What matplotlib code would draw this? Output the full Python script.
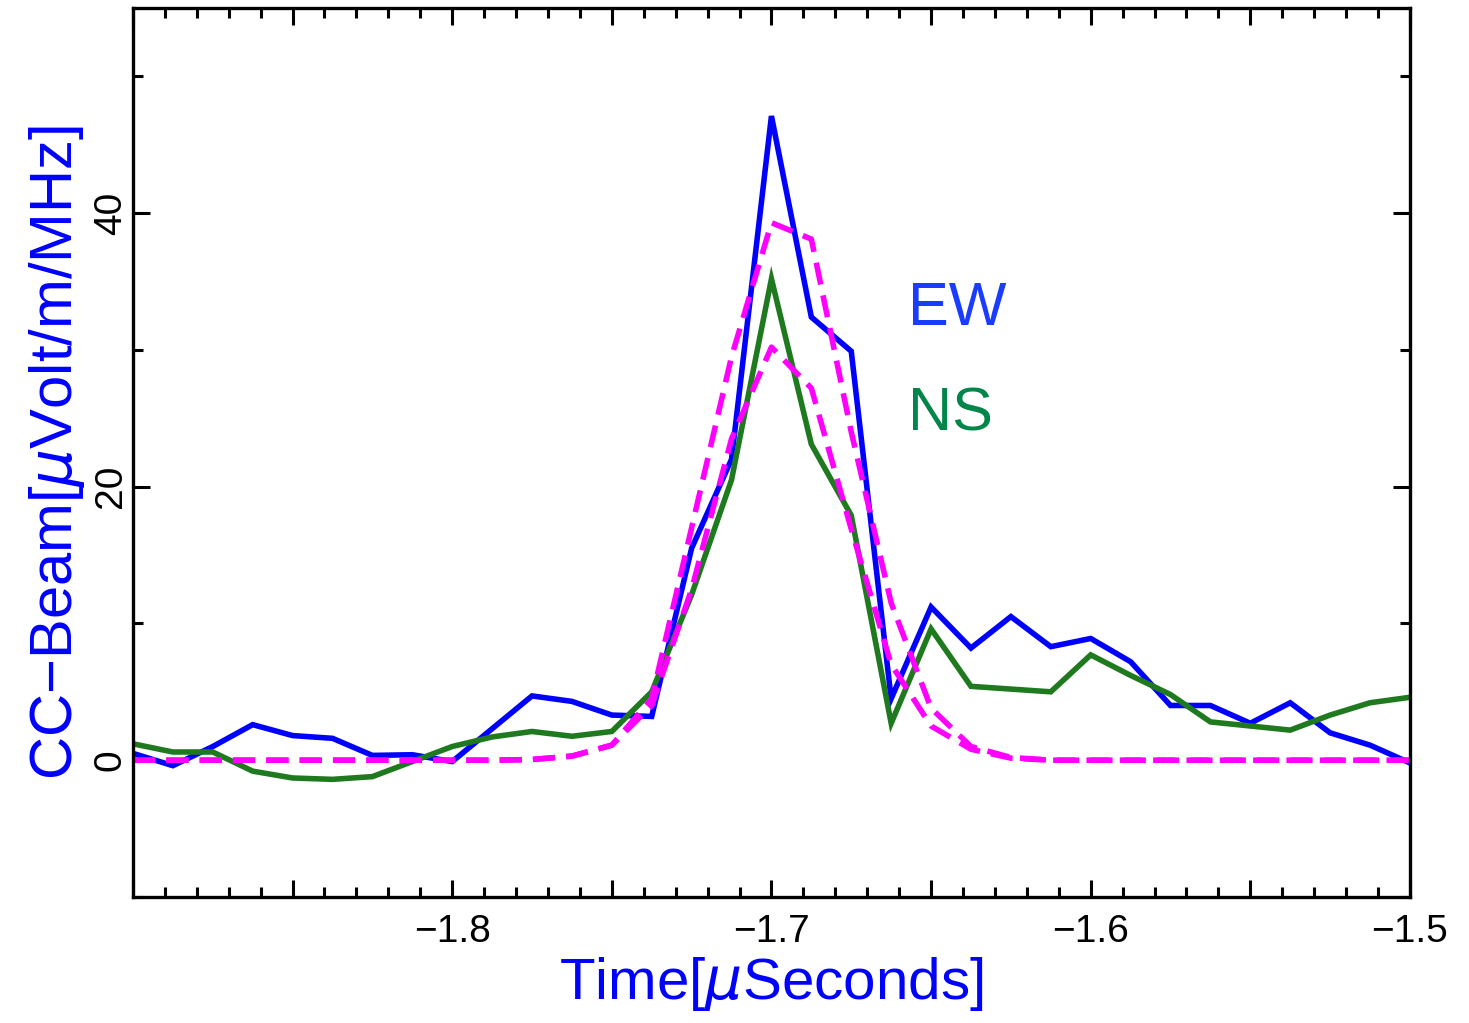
import numpy as np
import matplotlib
matplotlib.use("Agg")
import matplotlib.pyplot as plt
from matplotlib.ticker import MultipleLocator, FixedLocator

# time samples (microseconds), 12.5 ns spacing
time_us = [-1.9, -1.8875, -1.875, -1.8625, -1.85, -1.8375, -1.825, -1.8125,
           -1.8, -1.7875, -1.775, -1.7625, -1.75, -1.7375, -1.725, -1.7125,
           -1.7, -1.6875, -1.675, -1.6625, -1.65, -1.6375, -1.625, -1.6125,
           -1.6, -1.5875, -1.575, -1.5625, -1.55, -1.5375, -1.525, -1.5125,
           -1.5]

# CC-beam, east-west polarisation
beam_ew = [0.5, -0.4, 1.0, 2.6, 1.8, 1.6, 0.35, 0.4,
           -0.1, 2.3, 4.7, 4.3, 3.3, 3.2, 15.5, 22.0,
           47.1, 32.4, 29.9, 4.5, 11.2, 8.2, 10.5, 8.3,
           8.9, 7.2, 4.0, 4.0, 2.7, 4.2, 2.0, 1.1,
           -0.2]

# CC-beam, north-south polarisation
beam_ns = [1.2, 0.6, 0.6, -0.8, -1.3, -1.4, -1.2, -0.1,
           1.0, 1.7, 2.1, 1.75, 2.1, 5.0, 12.1, 20.5,
           35.2, 23.1, 17.9, 2.7, 9.6, 5.4, 5.2, 5.0,
           7.7, 6.2, 4.8, 2.8, 2.5, 2.2, 3.3, 4.2,
           4.6]

# fitted pulse shapes (dashed)
fit_ew = [0, 0, 0, 0, 0, 0, 0, 0,
          0, 0, 0.05, 0.3, 1.1, 4.5, 17.0, 29.5,
          39.3, 38.1, 24.0, 11.5, 3.8, 1.0, 0.2, 0,
          0, 0, 0, 0, 0, 0, 0, 0,
          0]
fit_ns = [0, 0, 0, 0, 0, 0, 0, 0,
          0, 0, 0.05, 0.3, 1.1, 4.0, 12.5, 23.5,
          30.2, 27.2, 16.9, 7.0, 2.5, 0.8, 0.15, 0,
          0, 0, 0, 0, 0, 0, 0, 0,
          0]

plt.rcParams['font.family'] = ['Liberation Sans', 'DejaVu Sans']

fig = plt.figure(figsize=(14.69, 10.23), dpi=100)
ax = fig.add_axes([0.0905, 0.1232, 0.8693, 0.869])

lw = 4.0
ax.plot(time_us, beam_ew, color='#0000ff', lw=lw, solid_joinstyle='miter')
ax.plot(time_us, beam_ns, color='#1f7a1f', lw=lw, solid_joinstyle='miter')
ax.plot(time_us, fit_ew, color='#ff00ff', lw=lw, dashes=(4, 2))
ax.plot(time_us, fit_ns, color='#ff00ff', lw=lw, dashes=(4, 2))

ax.set_xlim(-1.9, -1.5)
ax.set_ylim(-10, 55)

# labels only every 0.1, and none at the left edge
xmajor = [-1.9, -1.85, -1.8, -1.75, -1.7, -1.65, -1.6, -1.55, -1.5]
xlabels = ['', '', '\u22121.8', '', '\u22121.7', '', '\u22121.6', '', '\u22121.5']
ax.xaxis.set_major_locator(FixedLocator(xmajor))
ax.set_xticklabels(xlabels)
ax.xaxis.set_minor_locator(MultipleLocator(0.01))
ax.yaxis.set_major_locator(FixedLocator([0, 20, 40]))
ax.yaxis.set_minor_locator(FixedLocator([-10, 10, 30, 50]))

ax.tick_params(which='both', direction='in', top=True, right=True,
               width=2.2, colors='black')
ax.tick_params(which='major', length=12, labelsize=28, pad=12)
ax.tick_params(axis='y', which='major', pad=3)
ax.tick_params(which='minor', length=7)
for lab in ax.get_yticklabels():
    lab.set_rotation(90)
    lab.set_va('center')
for sp in ax.spines.values():
    sp.set_linewidth(2.4)

ax.set_xlabel('Time[$\\mu$Seconds]', color='#0000ff', fontsize=42, labelpad=4)
ax.set_ylabel('CC\u2212Beam[$\\mu$Volt/m/MHz]', color='#0000ff', fontsize=43,
              labelpad=4)

ax.text(-1.6572, 31.8, 'EW', color='#1a3cff', fontsize=44, va='baseline')
ax.text(-1.6572, 24.1, 'NS', color='#00854a', fontsize=44, va='baseline')

fig.savefig('out.png', dpi=100)
